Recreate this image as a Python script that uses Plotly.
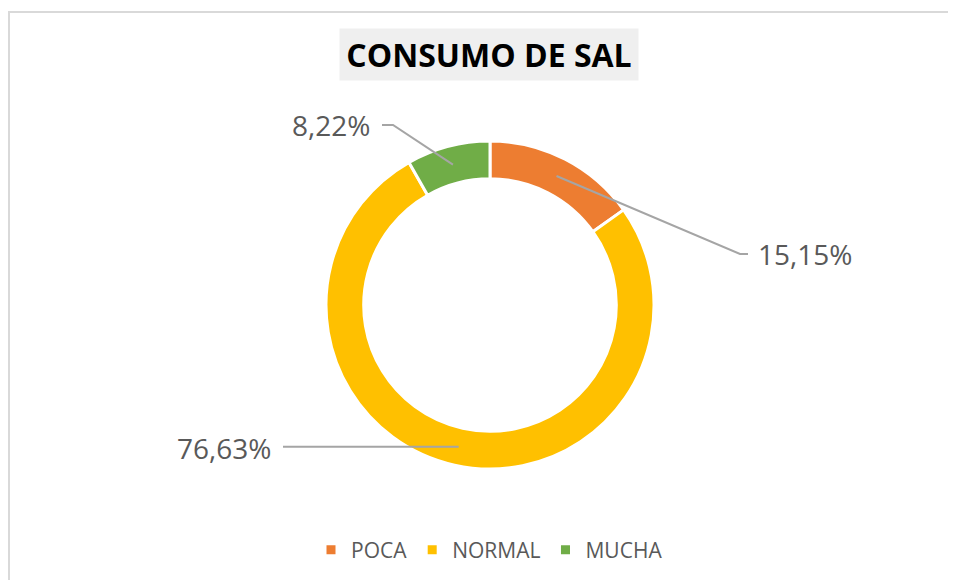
import math
import plotly.graph_objects as go

# ---- data ----
categories = ["POCA", "NORMAL", "MUCHA"]
values = [15.15, 76.63, 8.22]
label_texts = ["15,15%", "76,63%", "8,22%"]
colors = ["#ED7D31", "#FFC000", "#70AD47"]
title_text = "CONSUMO DE SAL"

# ---- layout geometry (screen pixels; page body has an 8px margin) ----
OFF = 8
W, H = 956 - OFF, 580 - OFF
CX, CY, R = 490 - OFF, 305 - OFF, 164
HOLE = 0.77
ML, MR, MT, MB = CX - R, W - (CX + R), CY - R, H - (CY + R)
PW = W - ML - MR
PH = H - MT - MB


def px(xs):
    return (xs - OFF - ML) / PW


def py(ys):
    return (H - MB - (ys - OFF)) / PH


# slice mid angles (clockwise from 12 o'clock)
total = sum(values)
mids = []
acc = 0
for v in values:
    mids.append((acc + v / 2) / total * 2 * math.pi)
    acc += v
r_mid = R * (1 + HOLE) / 2
SCX, SCY = CX + OFF, CY + OFF
anchors = [(SCX + r_mid * math.sin(a), SCY - r_mid * math.cos(a)) for a in mids]

# label text placement (offsets from ring centre, pixels)
label_pos = [(266, -51, "left"), (-217, 143, "right"), (-118, -180, "right")]
line_gray = "#A5A5A5"
text_gray = "#595959"

fig = go.Figure(go.Pie(
    labels=categories,
    values=values,
    hole=HOLE,
    sort=False,
    direction="clockwise",
    rotation=0,
    textinfo="none",
    hoverinfo="label+percent",
    marker=dict(colors=colors, line=dict(color="white", width=3)),
))

annotations = []
shapes = []
for i, (dx, dy, anchor) in enumerate(label_pos):
    tx, ty = SCX + dx, SCY + dy
    annotations.append(dict(
        x=px(tx), y=py(ty), xref="paper", yref="paper",
        text=label_texts[i], showarrow=False,
        xanchor=anchor, yanchor="middle",
        font=dict(family="Open Sans", size=28, color=text_gray),
    ))
    ax, ay = anchors[i]
    if anchor == "left":
        x0 = tx - 8
        elbow = (x0 - 8, ty)
    else:
        x0 = tx + 10
        elbow = (x0 + 11, ty)
    if i == 1:
        path = f"M{px(x0)},{py(ay)} L{px(ax)},{py(ay)}"
    else:
        path = (f"M{px(x0)},{py(ty)} L{px(elbow[0])},{py(elbow[1])} "
                f"L{px(ax)},{py(ay)}")
    shapes.append(dict(type="path", path=path, xref="paper", yref="paper",
                       line=dict(color=line_gray, width=2)))

# chart border (top and left edges visible)
shapes.append(dict(type="path", xref="paper", yref="paper",
                   path=f"M{px(9)},{py(600)} L{px(9)},{py(12)} L{px(980)},{py(12)}",
                   line=dict(color="#D9D9D9", width=2)))

# title
annotations.append(dict(
    x=px(489), y=py(54.5), xref="paper", yref="paper",
    text=f"<b>{title_text}</b>", showarrow=False,
    xanchor="center", yanchor="middle",
    bgcolor="#EFEFEF", width=296, height=49, borderpad=1,
    font=dict(family="Open Sans", size=32, color="#000000"),
))

fig.update_layout(
    width=W, height=H,
    margin=dict(l=ML, r=MR, t=MT, b=MB, autoexpand=False),
    paper_bgcolor="white", plot_bgcolor="white",
    showlegend=True,
    legend=dict(orientation="h", x=px(668), xanchor="right",
                y=py(550), yanchor="middle",
                font=dict(family="Open Sans", size=21, color=text_gray),
                itemclick=False, itemdoubleclick=False),
    annotations=annotations,
    shapes=shapes,
)

fig.write_html("out.html")
